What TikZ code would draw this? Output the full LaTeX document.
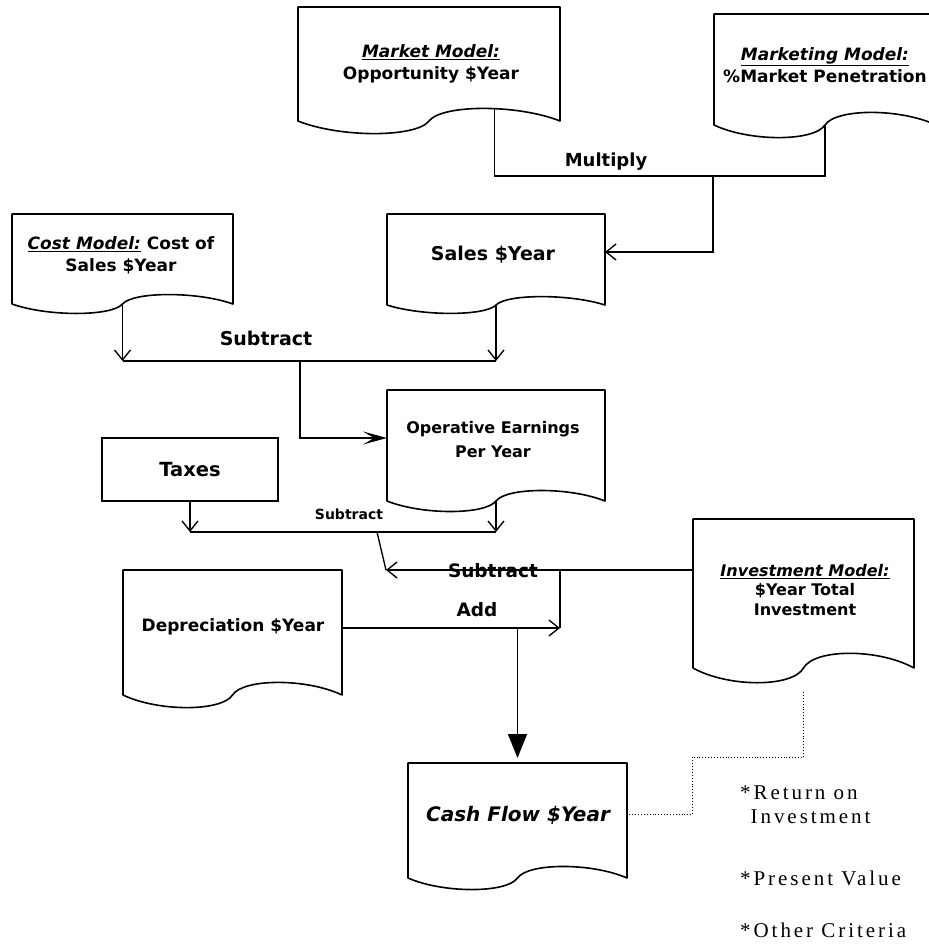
\documentclass[tikz,border=0pt]{standalone}
\usepackage{fontspec}
\setmainfont{DejaVu Sans}
\newfontfamily\critfont[LetterSpace=14]{Liberation Serif}
\usetikzlibrary{arrows.meta,calc}

% document symbol: flat top, wavy bottom edge
% #1 name, #2 left, #3 top, #4 right, #5 wave midline, #6 wave amplitude
\newcommand\docshape[6]{%
  \pgfmathsetmacro\dW{#4-#2}%
  \pgfmathsetmacro\dM{(#2+#4)/2}%
  \pgfmathsetmacro\dH{#5-#3}%
  \node[frame, minimum width=\dW pt, minimum height=\dH pt] (#1) at (\dM,{(#3+#5)/2}) {};
  \draw[docline] (#2,#3) -- (#4,#3) -- (#4,#5)
    .. controls ({#4-0.16*\dW},{#5-1.4*#6}) and ({\dM+0.05*\dW},{#5-1.4*#6}) .. (\dM,#5)
    .. controls ({\dM-0.05*\dW},{#5+1.4*#6}) and ({#2+0.16*\dW},{#5+1.4*#6}) .. (#2,#5) -- cycle;
  \coordinate (#1-in) at (\dM,#5);
  \coordinate (#1-pk) at ({\dM+0.25*\dW},{#5-1.0*#6});
}

\tikzset{
  frame/.style={inner sep=0pt, outer sep=0pt, draw=none},
  docline/.style={line width=1.6pt, line join=round},
  conn/.style={line width=1.35pt},
  barb/.style={-{Straight Barb[length=10pt,width=16pt]}},
  dart/.style={-{Stealth[length=24pt,width=13pt,inset=11pt]}},
  bigtri/.style={-{Triangle[length=24pt,width=19pt]}, shorten >=5pt},
  dotline/.style={line width=0.9pt, dotted},
  doctext/.style={align=center, font=\fontsize{17}{22}\selectfont\bfseries, inner sep=0pt},
  modelname/.style={},
  oplabel/.style={font=\fontsize{18.5}{20}\selectfont\bfseries, inner sep=0pt},
  crit/.style={font=\fontsize{21}{24}\selectfont\critfont, inner sep=0pt, anchor=west, align=left},
}
\newcommand\modelname[1]{\underline{\itshape #1}}

\begin{document}
\begin{tikzpicture}[x=1pt, y=-1pt]
\useasboundingbox (0,0) rectangle (929,946);

% ---- document symbols ----
\docshape{mkt}{298}{7}{560}{121}{12}
\docshape{mktg}{714}{14}{936}{125}{12}
\docshape{cost}{12}{214}{233}{304}{9}
\docshape{sales}{387}{214}{605}{305}{8}
\docshape{oper}{387}{390}{605}{501}{10}
\docshape{dep}{123}{570}{342}{695}{12}
\docshape{inv}{693}{519}{914}{668}{14}
\docshape{cash}{408}{763}{627}{878}{11}

\node[draw, line width=1.6pt, minimum width=176pt, minimum height=63pt, inner sep=0pt,
      font=\fontsize{19.5}{20}\selectfont\bfseries] (taxes) at (190,469.5) {Taxes};

% ---- texts inside the documents ----
\node[doctext] (mkt-t) at (431,64) {\modelname{Market Model:}\\Opportunity \$Year};
\node[doctext] (mktg-t) at (825,65) {\modelname{Marketing Model:}\\\%Market Penetration};
\node[doctext] (cost-t) at (121,255) {\modelname{Cost Model:} Cost of\\Sales \$Year};
\node[doctext, font=\fontsize{19}{22}\selectfont\bfseries] (sales-t) at (493,255) {Sales \$Year};
\node[doctext, font=\fontsize{16}{24}\selectfont\bfseries] (oper-t) at (493,440) {Operative Earnings\\Per Year};
\node[doctext] (dep-t) at (233,627) {Depreciation \$Year};
\node[doctext, font=\fontsize{16}{19.5}\selectfont\bfseries] (inv-t) at (805,590)
  {\modelname{Investment Model:}\\\$Year Total\\Investment};
\node[doctext, font=\fontsize{20}{22}\selectfont\bfseries\itshape] (cash-t) at (518,815) {Cash Flow \$Year};

% ---- junction points ----
\coordinate (mulj) at (713,176);
\coordinate (bar1) at (300,361);
\coordinate (bar2) at (377,532);
\coordinate (subj) at (386,570);
\coordinate (addj) at (560,570);
\coordinate (addin) at (560,628);
\coordinate (dotA) at (692,757);

% ---- multiply ----
\draw[conn] (mkt-pk) |- (mulj) -| (mktg-in);
\draw[conn, barb] (mulj) |- ($(sales.east)+(0,-7.5)$);
\node[oplabel, font=\fontsize{18}{20}\selectfont\bfseries] (mul-t) at (606,162) {Multiply};

% ---- subtract: sales minus cost of sales ----
\draw[conn, barb] (cost-in) -- (cost-in |- bar1);
\draw[conn, barb] (sales-in) -- (sales-in |- bar1);
\draw[conn] (cost-in |- bar1) -- (sales-in |- bar1);
\draw[conn, dart] (bar1) |- ($(oper.west)+(0,-7.5)$);
\node[oplabel, font=\fontsize{19}{20}\selectfont\bfseries] (sub1-t) at (266,338) {Subtract};

% ---- subtract: taxes ----
\draw[conn, barb] (taxes.south) -- (taxes.south |- bar2);
\draw[conn, barb] (oper-in) -- (oper-in |- bar2);
\draw[conn] (taxes.south |- bar2) -- (oper-in |- bar2);
\draw[conn] (bar2) -- (subj);
\node[oplabel, font=\fontsize{14}{16}\selectfont\bfseries] (sub2-t) at (349,514) {Subtract};

% ---- subtract: investment ----
\draw[conn, barb] (inv.west |- subj) -- (subj);
\node[oplabel] (sub3-t) at (493,571) {Subtract};

% ---- add: depreciation ----
\draw[conn] (addj) -- (addin);
\draw[conn, barb] (dep.east |- addin) -- (addin);
\node[oplabel] (add-t) at (477,610) {Add};
\draw[conn, bigtri] (cash.north |- addin) -- (cash.north);

% ---- evaluation criteria ----
\draw[dotline] ($(inv-in)+(0,24)$) |- (dotA) |- ($(cash.east)+(0,-6)$);
\node[crit] (roi) at (740,805) {*Return on\\\phantom{*}Investment};
\node[crit] (pv) at (740,878) {*Present Value};
\node[crit] (oc) at (740,930) {*Other Criteria};
\end{tikzpicture}
\end{document}
